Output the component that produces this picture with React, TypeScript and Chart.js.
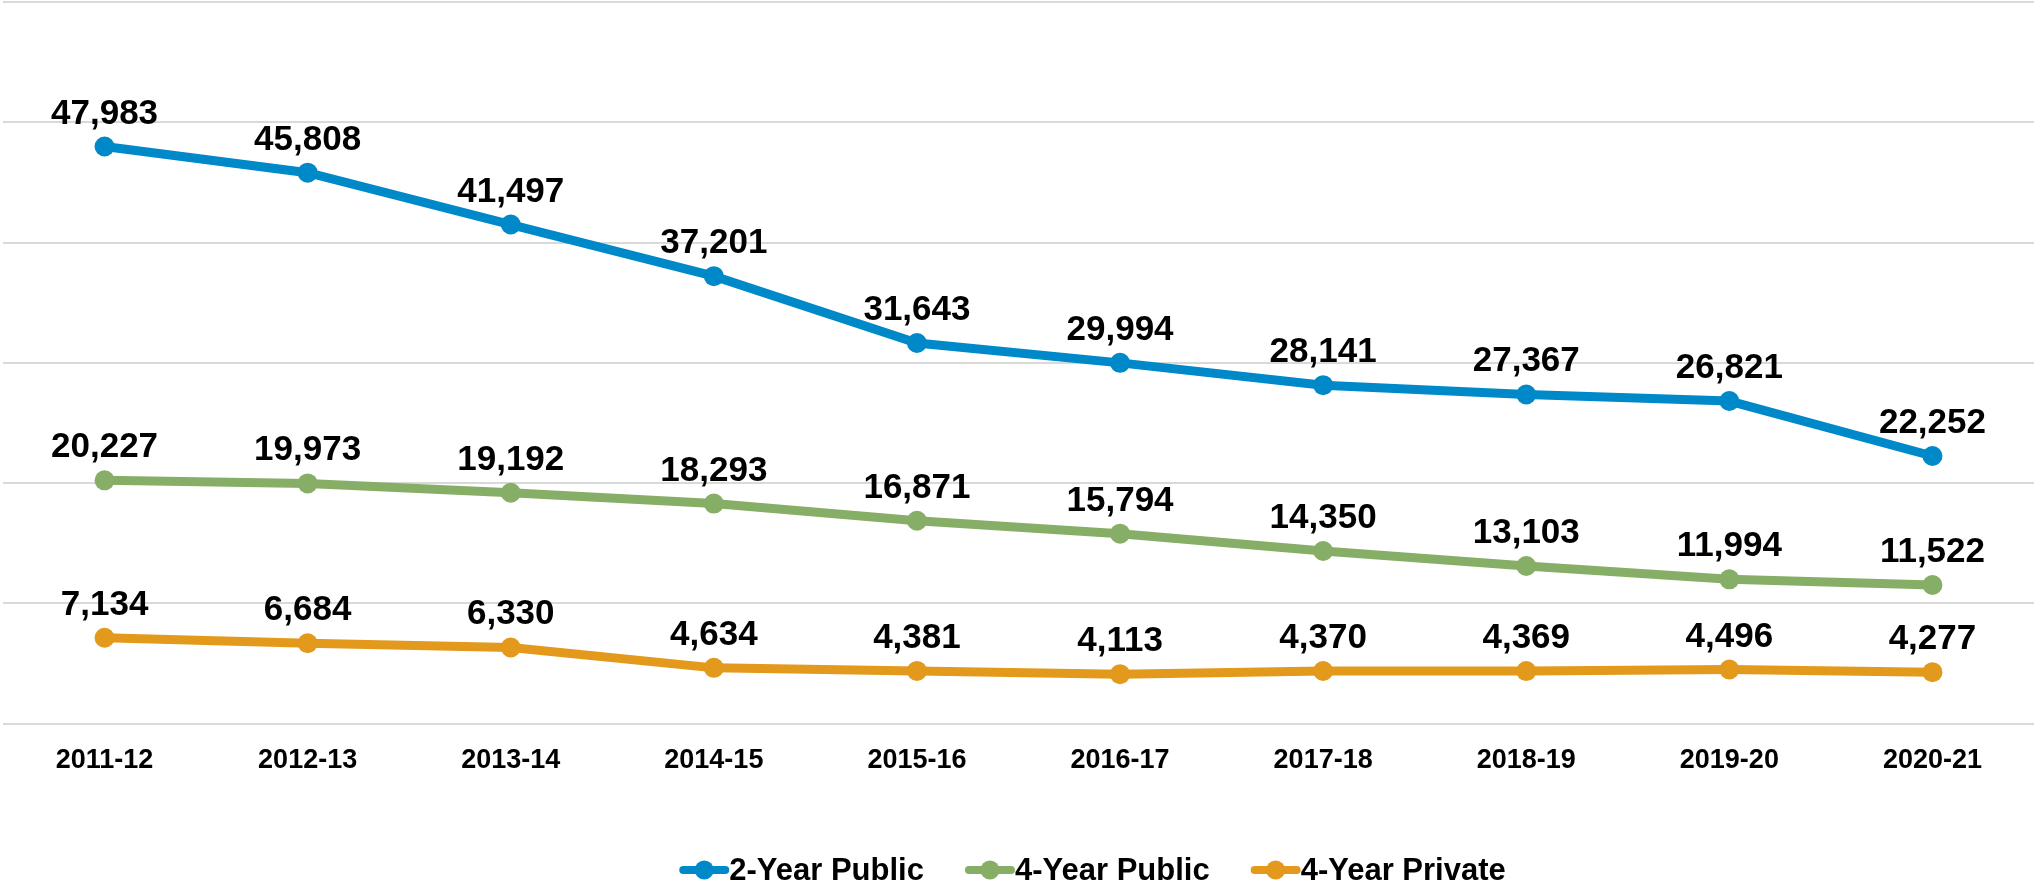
import React, { useEffect, useRef } from "react";
import { Chart, registerables } from "chart.js";

Chart.register(...registerables);

const categories = ["2011-12", "2012-13", "2013-14", "2014-15", "2015-16", "2016-17", "2017-18", "2018-19", "2019-20", "2020-21"];
const twoYearPublic = [47983, 45808, 41497, 37201, 31643, 29994, 28141, 27367, 26821, 22252];
const fourYearPublic = [20227, 19973, 19192, 18293, 16871, 15794, 14350, 13103, 11994, 11522];
const fourYearPrivate = [7134, 6684, 6330, 4634, 4381, 4113, 4370, 4369, 4496, 4277];
const seriesNames = ["2-Year Public", "4-Year Public", "4-Year Private"];
const seriesColors = ["#0089C9", "#87AE66", "#E2991C"];
const yMin = 0;
const yMax = 60000;
const yStep = 10000;

const FONT = "'Liberation Sans', Arial, Helvetica, sans-serif";

const dataLabelPlugin = {
  id: "dataLabels",
  afterDatasetsDraw(chart: any) {
    const ctx = chart.ctx;
    ctx.save();
    ctx.font = `bold 35px ${FONT}`;
    ctx.fillStyle = "#000";
    ctx.textAlign = "center";
    ctx.textBaseline = "alphabetic";
    chart.data.datasets.forEach((ds: any, i: number) => {
      const meta = chart.getDatasetMeta(i);
      meta.data.forEach((pt: any, j: number) => {
        const v = ds.data[j] as number;
        ctx.fillText(v.toLocaleString("en-US"), pt.x, pt.y - 23);
      });
    });
    ctx.restore();
  },
};

const legendPlugin = {
  id: "customLegend",
  afterDraw(chart: any) {
    const ctx = chart.ctx;
    ctx.save();
    ctx.font = `bold 31px ${FONT}`;
    const markerW = 50;
    const gap = 41;
    const items = chart.data.datasets.map((ds: any) => ({
      text: ds.label as string,
      color: ds.borderColor as string,
      w: ctx.measureText(ds.label).width as number,
    }));
    const total = items.reduce((s: number, it: any) => s + markerW + it.w, 0) + gap * (items.length - 1);
    let x = 1092.5 - total / 2;
    const y = 870;
    items.forEach((it: any) => {
      ctx.strokeStyle = it.color;
      ctx.lineWidth = 8;
      ctx.lineCap = "round";
      ctx.beginPath();
      ctx.moveTo(x + 4, y);
      ctx.lineTo(x + markerW - 4, y);
      ctx.stroke();
      ctx.fillStyle = it.color;
      ctx.beginPath();
      ctx.arc(x + markerW / 2, y, 9.5, 0, Math.PI * 2);
      ctx.fill();
      ctx.fillStyle = "#000";
      ctx.textAlign = "left";
      ctx.textBaseline = "middle";
      ctx.fillText(it.text, x + markerW, y + 1);
      x += markerW + it.w + gap;
    });
    ctx.restore();
  },
};

export default function App() {
  const canvasRef = useRef<HTMLCanvasElement | null>(null);

  useEffect(() => {
    if (!canvasRef.current) return;
    const series = [twoYearPublic, fourYearPublic, fourYearPrivate];
    const chart = new Chart(canvasRef.current, {
      type: "line",
      data: {
        labels: categories,
        datasets: series.map((d, i) => ({
          label: seriesNames[i],
          data: d,
          borderColor: seriesColors[i],
          backgroundColor: seriesColors[i],
          pointBackgroundColor: seriesColors[i],
          pointBorderColor: seriesColors[i],
          borderWidth: 9,
          pointRadius: 10,
          pointBorderWidth: 0,
          tension: 0,
          fill: false,
        })),
      },
      options: {
        responsive: false,
        animation: false,
        layout: { autoPadding: false, padding: { left: 3, right: 0, top: 2, bottom: 98 } },
        plugins: {
          legend: { display: false },
          tooltip: { enabled: false },
        },
        scales: {
          x: {
            offset: true,
            grid: { display: false },
            border: { display: false },
            ticks: {
              color: "#000",
              font: { family: FONT, size: 27, weight: "bold" },
              padding: 13,
            },
          },
          y: {
            min: yMin,
            max: yMax,
            ticks: { stepSize: yStep, display: false },
            grid: { color: "#D9D9D9", lineWidth: 2, drawTicks: false },
            border: { display: false },
          },
        },
      },
      plugins: [dataLabelPlugin, legendPlugin],
    });
    return () => chart.destroy();
  }, []);

  return (
    <div style={{ position: "absolute", left: 0, top: 0, width: 2034, height: 888, background: "#fff" }}>
      <canvas ref={canvasRef} width={2034} height={888} style={{ display: "block" }} />
    </div>
  );
}
